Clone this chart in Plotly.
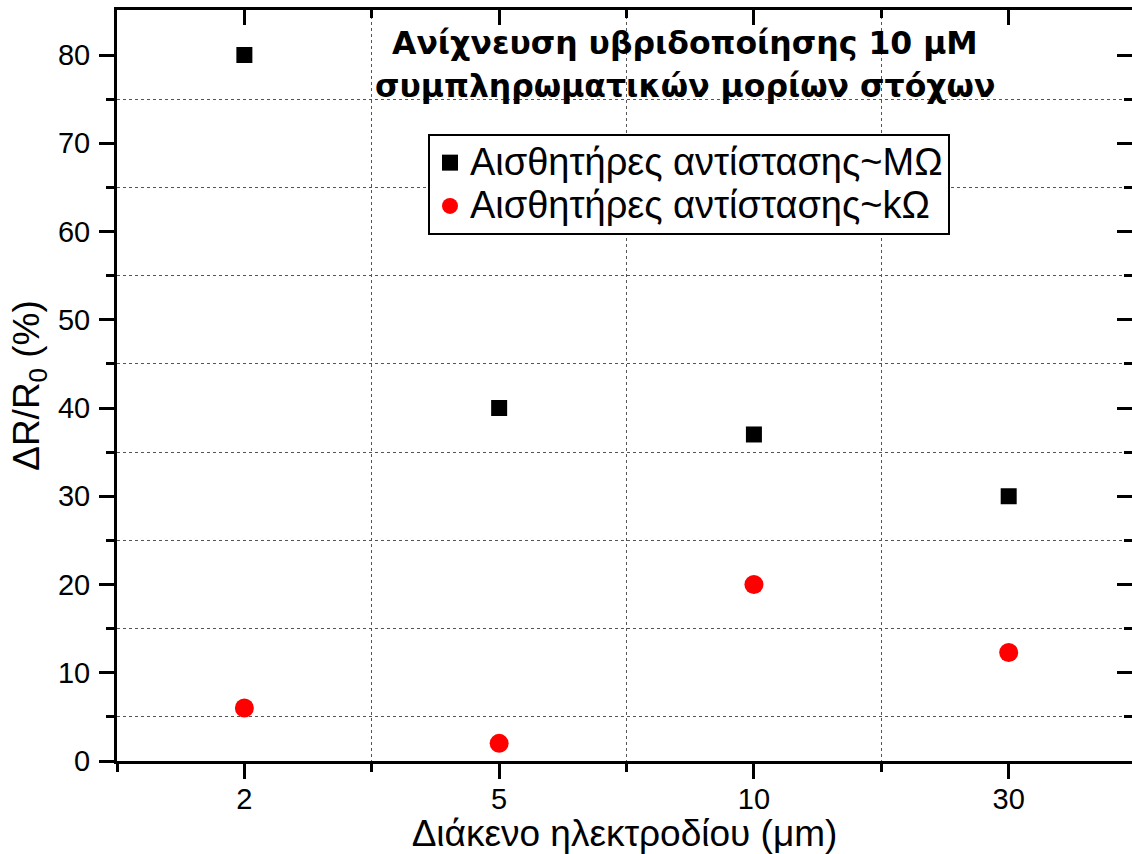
import plotly.graph_objects as go

# Electrode gap (μm) categories and measured relative resistance change (%)
gaps = ["2", "5", "10", "30"]
resp_mohm = [80, 40, 37, 30]      # MΩ-range sensors
resp_kohm = [6, 2, 20, 12.3]      # kΩ-range sensors
y_ticks = [0, 10, 20, 30, 40, 50, 60, 70, 80]
y_minor = [5, 15, 25, 35, 45, 55, 65, 75]

pos = list(range(len(gaps)))
x_minor = [p - 0.5 for p in pos]

FONT = "Arial, Liberation Sans, sans-serif"
TITLE_FONT = "DejaVu Sans, Verdana, sans-serif"


def big(label):
    # larger glyphs inside a compact legend row
    return f'<span style="font-size:38px">{label}</span>'


fig = go.Figure()
fig.add_trace(go.Scatter(
    x=pos, y=resp_mohm, mode="markers", name=big("Αισθητήρες αντίστασης~MΩ"),
    legendgroup="a",
    marker=dict(symbol="square", size=16, color="black"),
))
fig.add_trace(go.Scatter(
    x=pos, y=resp_kohm, mode="markers", name=big("Αισθητήρες αντίστασης~kΩ"),
    legendgroup="b",
    marker=dict(symbol="circle", size=19, color="red"),
))
# empty trace so the top/right frame axes get drawn
fig.add_trace(go.Scatter(x=[], y=[], xaxis="x2", yaxis="y2",
                         showlegend=False, hoverinfo="skip"))

xr = [-0.5, 3.484]
yr = [0, 85.1]
grid = dict(showgrid=True, griddash="dot", gridcolor="#555555", gridwidth=1)

fig.update_layout(
    width=1132, height=854,
    margin=dict(l=117, r=0, t=10, b=93),
    paper_bgcolor="white", plot_bgcolor="white",
    font=dict(family=FONT, color="black"),
    showlegend=True,
    legend=dict(
        x=0.3064, y=0.8349, xanchor="left", yanchor="top",
        bordercolor="black", borderwidth=2, bgcolor="white",
        font=dict(size=31, family=FONT), tracegroupgap=0,
    ),
    xaxis=dict(
        range=xr, tickvals=pos, ticktext=gaps,
        ticks="outside", ticklen=15, tickwidth=3, tickcolor="black",
        showline=True, linewidth=3, linecolor="black",
        showgrid=False, zeroline=False,
        tickfont=dict(size=29), ticklabelstandoff=-5,
        minor=dict(tickvals=x_minor, ticks="outside", ticklen=8, tickwidth=3,
                   tickcolor="black", **grid),
        title=dict(text="Διάκενο ηλεκτροδίου (μm)", font=dict(size=37), standoff=8),
    ),
    yaxis=dict(
        range=yr, tickvals=y_ticks,
        ticks="outside", ticklen=15, tickwidth=3, tickcolor="black",
        showline=True, linewidth=3, linecolor="black",
        showgrid=False, zeroline=False,
        tickfont=dict(size=29), ticklabelstandoff=3,
        minor=dict(tickvals=y_minor, ticks="outside", ticklen=8, tickwidth=3,
                   tickcolor="black", **grid),
        title=dict(text="ΔR/R<sub>0</sub> (%)", font=dict(size=37), standoff=7),
    ),
    xaxis2=dict(
        range=xr, overlaying="x", side="top", anchor="y2",
        tickvals=pos, showticklabels=False,
        ticks="inside", ticklen=15, tickwidth=3, tickcolor="black",
        showline=True, linewidth=3, linecolor="black",
        showgrid=False, zeroline=False,
        minor=dict(tickvals=x_minor, ticks="inside", ticklen=8, tickwidth=3,
                   tickcolor="black", showgrid=False),
    ),
    yaxis2=dict(
        range=yr, overlaying="y", side="right", anchor="x2",
        tickvals=y_ticks, showticklabels=False,
        ticks="inside", ticklen=15, tickwidth=3, tickcolor="black",
        showline=True, linewidth=3, linecolor="black",
        showgrid=False, zeroline=False,
        minor=dict(tickvals=y_minor, ticks="inside", ticklen=8, tickwidth=3,
                   tickcolor="black", showgrid=False),
    ),
    annotations=[
        dict(text="<b>Ανίχνευση υβριδοποίησης 10 μM</b>", xref="paper", yref="paper",
             x=0.5596, y=(761 - 43) / 751, xanchor="center", yanchor="middle",
             showarrow=False, font=dict(size=31.5, family=TITLE_FONT)),
        dict(text="<b>συμπληρωματικών μορίων στόχων</b>", xref="paper", yref="paper",
             x=0.5596, y=(761 - 86) / 751, xanchor="center", yanchor="middle",
             showarrow=False, font=dict(size=31.5, family=TITLE_FONT)),
    ],
)

fig.write_html("out.html")
